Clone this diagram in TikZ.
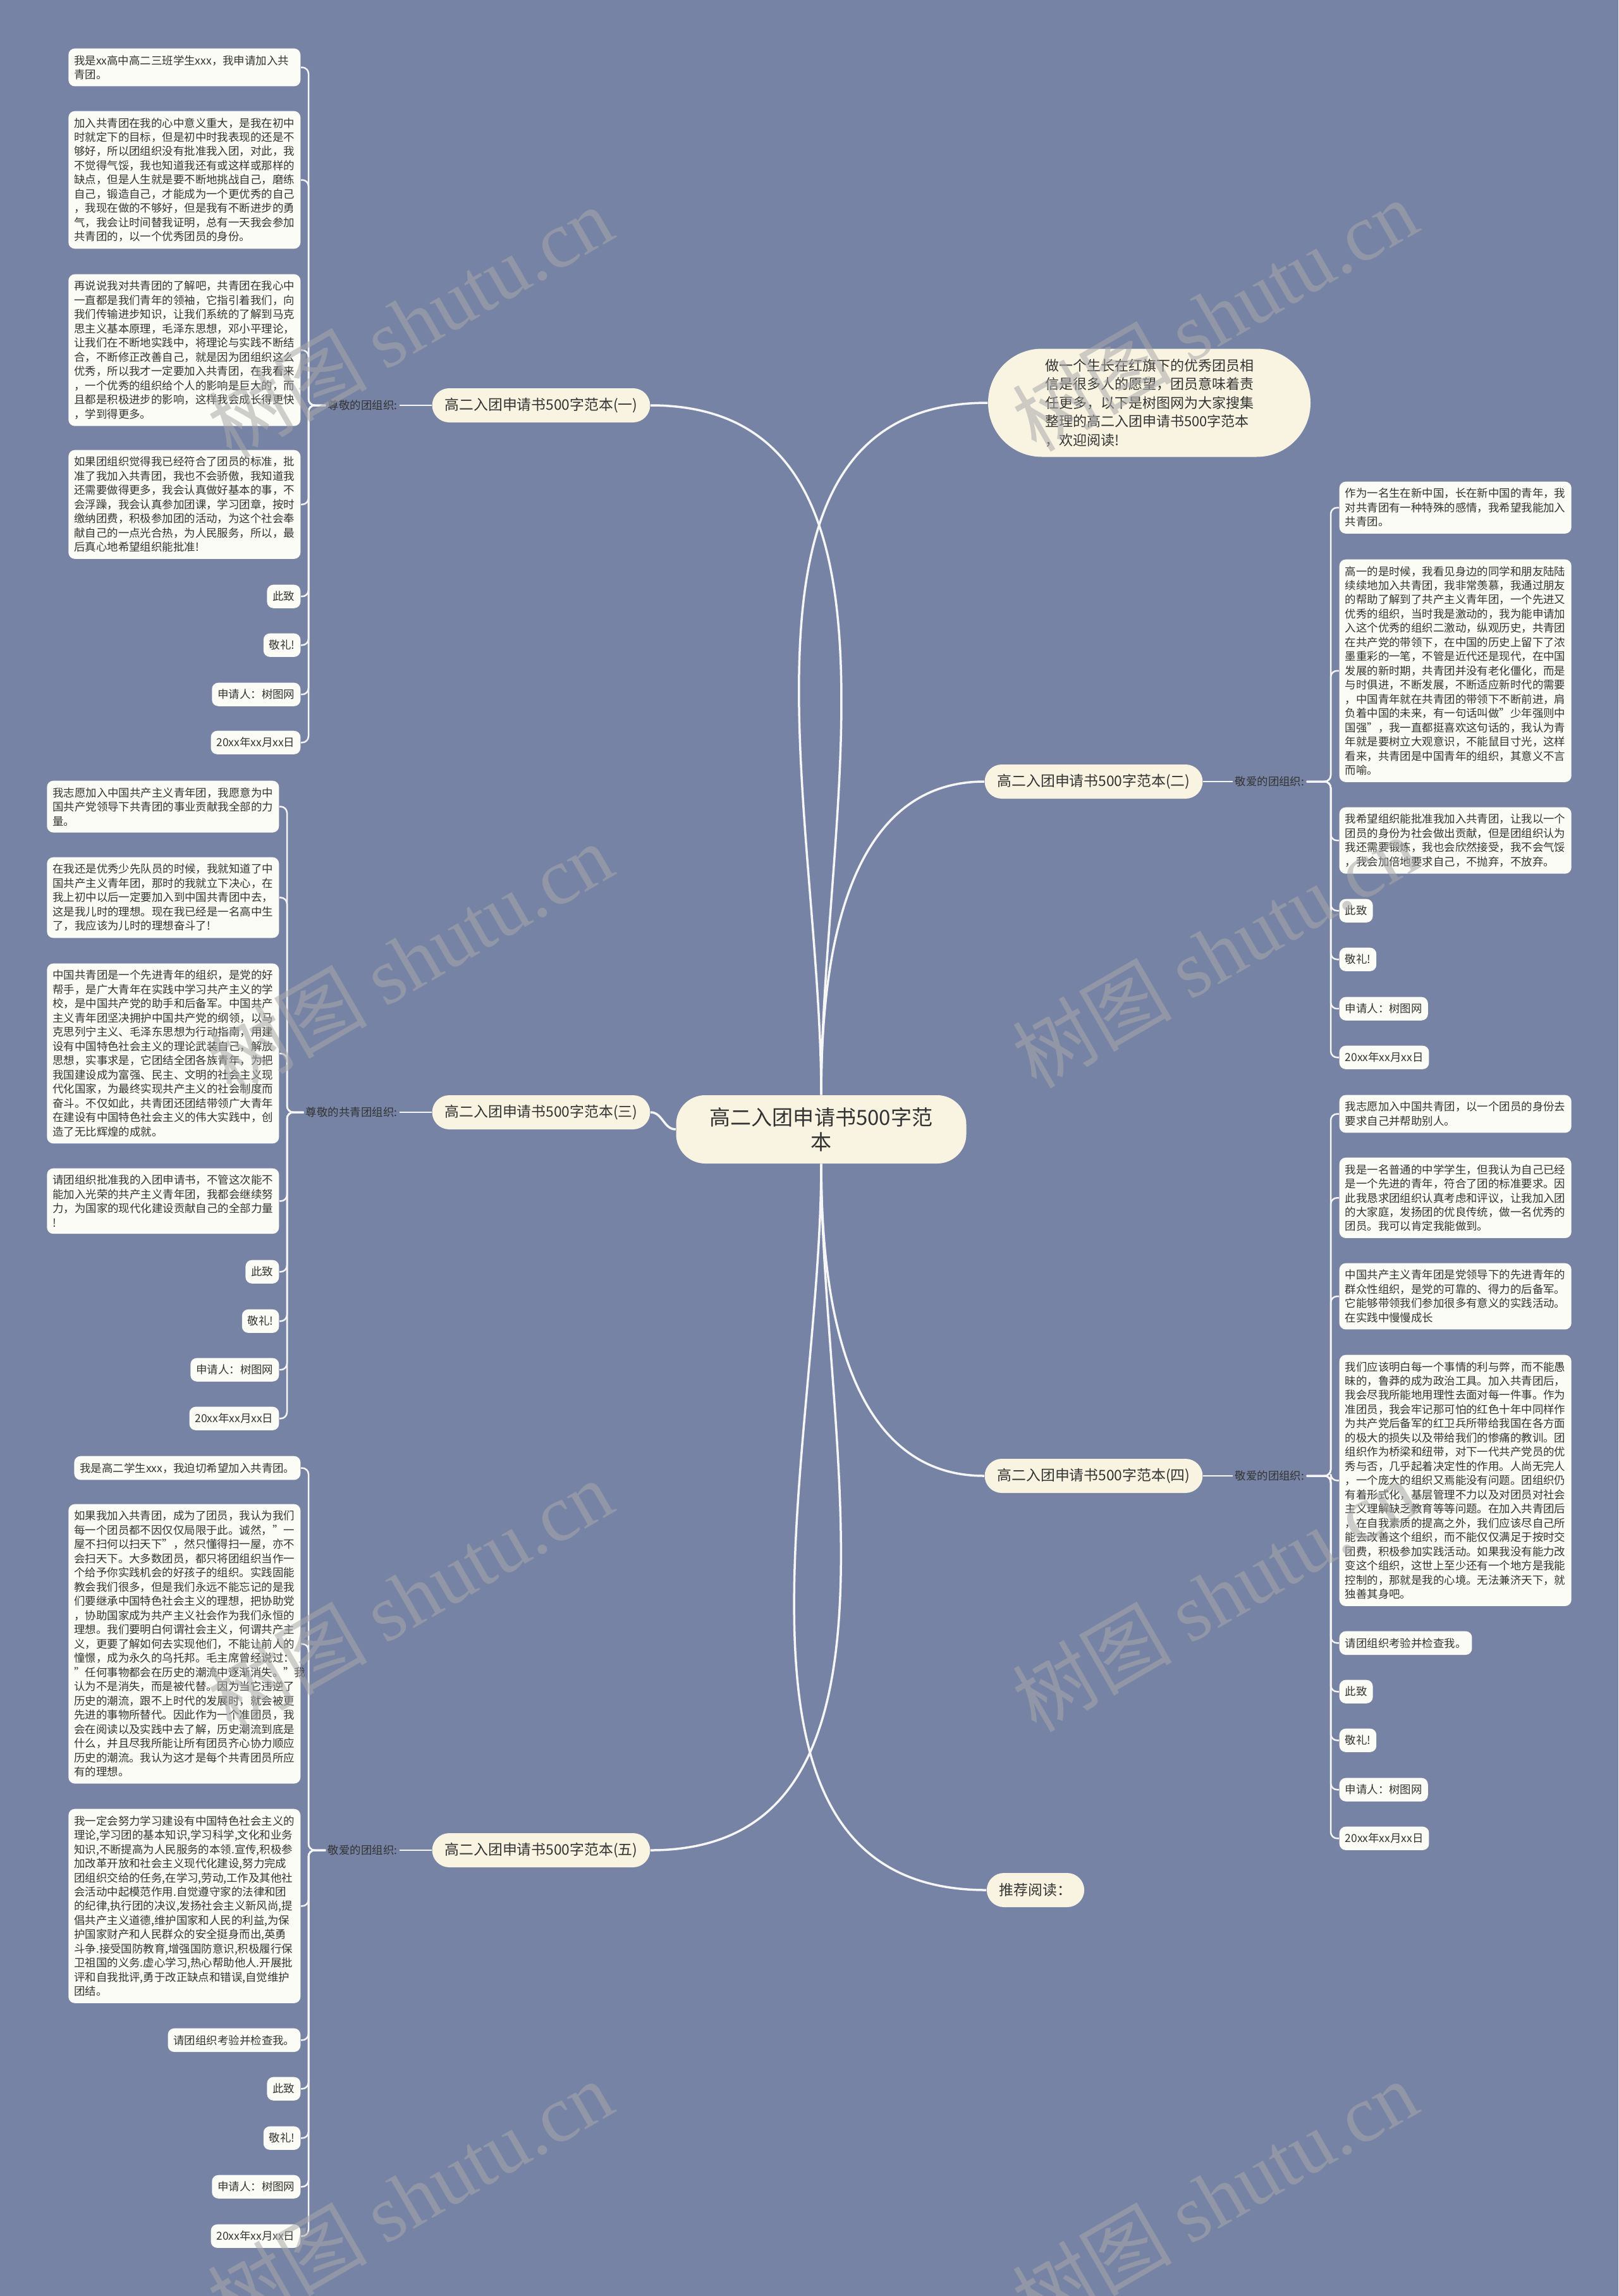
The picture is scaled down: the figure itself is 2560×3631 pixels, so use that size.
\documentclass[tikz,border=0pt]{standalone}
\usepackage{fontspec}
\setmainfont{Noto Sans CJK SC}
\newfontfamily\wmlatin{Liberation Serif}

\definecolor{mapbg}{RGB}{118,131,164}
\definecolor{leafbg}{RGB}{252,252,246}
\definecolor{topicbg}{RGB}{248,244,225}
\definecolor{inkgray}{RGB}{51,51,51}
\definecolor{wirecol}{RGB}{246,246,246}
\definecolor{wmgray}{RGB}{168,168,170}

\tikzset{
  leaftext/.style={text=inkgray, font=\fontsize{4.96pt}{6.4pt}\selectfont},
  chip/.style={leaftext, fill=leafbg, rounded corners=1mm, inner xsep=0.9mm, inner ysep=1.05mm},
  leaf/.style={chip, text width=34.9mm, align=left},
  cue/.style={leaftext, inner sep=0.3mm},
  topic/.style={fill=topicbg, text=inkgray, rounded corners=2.7mm, minimum height=5.4mm, inner xsep=2mm, font=\fontsize{6.5pt}{8pt}\selectfont},
  rootnode/.style={fill=topicbg, text=inkgray, rounded corners=4.6mm, minimum width=45.9mm, minimum height=10.8mm, align=center, font=\fontsize{9.4pt}{11.1pt}\selectfont},
  blurb/.style={fill=topicbg, text=inkgray, rounded corners=8.5mm, minimum width=51mm, minimum height=17.1mm, align=left, font=\fontsize{6.26pt}{8.4pt}\selectfont},
  twig/.style={draw=wirecol, line width=0.25mm, rounded corners=1mm},
  limb/.style={draw=wirecol, line width=0.35mm},
  watermark/.style={text=wmgray, text opacity=0.55, rotate=30, font=\fontsize{36pt}{36pt}\selectfont}
}

\begin{document}
\begin{tikzpicture}[x=0.1mm, y=-0.1mm]
\fill[mapbg] (0,0) rectangle (2560,3631);
\useasboundingbox (0,0) rectangle (2560,3631);

\node[rootnode] (root) at (1299,1786) {高二入团申请书500字范\\本};

\node[blurb] (intro) at (1818,637) {做一个生长在红旗下的优秀团员相\\信是很多人的愿望，团员意味着责\\任更多，以下是树图网为大家搜集\\整理的高二入团申请书500字范本\\，欢迎阅读!};

\node[topic] (b1) at (856,641) {高二入团申请书500字范本(一)};
\node[topic] (b2) at (1730,1236) {高二入团申请书500字范本(二)};
\node[topic] (b3) at (856,1759) {高二入团申请书500字范本(三)};
\node[topic] (b4) at (1730,2334) {高二入团申请书500字范本(四)};
\node[topic] (b5) at (856,2926) {高二入团申请书500字范本(五)};
\node[topic] (rec) at (1638,2989) {推荐阅读：};

\node[cue, anchor=east] (c1) at (632,641) {尊敬的团组织:};
\node[cue, anchor=west] (c2) at (1950,1236) {敬爱的团组织:};
\node[cue, anchor=east] (c3) at (632,1759) {尊敬的共青团组织:};
\node[cue, anchor=west] (c4) at (1950,2334) {敬爱的团组织:};
\node[cue, anchor=east] (c5) at (632,2926) {敬爱的团组织:};

\coordinate (t1) at (488,0);
\coordinate (t2) at (2105,0);
\coordinate (t3) at (454,0);
\coordinate (t4) at (2105,0);
\coordinate (t5) at (488,0);

\node[leaf, anchor=north east] (l1a) at (476,76) {我是xx高中高二三班学生xxx，我申请加入共\\青团。};
\node[leaf, anchor=north east] (l1b) at (476,175) {加入共青团在我的心中意义重大，是我在初中\\时就定下的目标，但是初中时我表现的还是不\\够好，所以团组织没有批准我入团，对此，我\\不觉得气馁，我也知道我还有或这样或那样的\\缺点，但是人生就是要不断地挑战自己，磨练\\自己，锻造自己，才能成为一个更优秀的自己\\，我现在做的不够好，但是我有不断进步的勇\\气，我会让时间替我证明，总有一天我会参加\\共青团的，以一个优秀团员的身份。};
\node[leaf, anchor=north east] (l1c) at (476,433) {再说说我对共青团的了解吧，共青团在我心中\\一直都是我们青年的领袖，它指引着我们，向\\我们传输进步知识，让我们系统的了解到马克\\思主义基本原理，毛泽东思想，邓小平理论，\\让我们在不断地实践中，将理论与实践不断结\\合，不断修正改善自己，就是因为团组织这么\\优秀，所以我才一定要加入共青团，在我看来\\，一个优秀的组织给个人的影响是巨大的，而\\且都是积极进步的影响，这样我会成长得更快\\，学到得更多。};
\node[leaf, anchor=north east] (l1d) at (476,711) {如果团组织觉得我已经符合了团员的标准，批\\准了我加入共青团，我也不会骄傲，我知道我\\还需要做得更多，我会认真做好基本的事，不\\会浮躁，我会认真参加团课，学习团章，按时\\缴纳团费，积极参加团的活动，为这个社会奉\\献自己的一点光合热，为人民服务，所以，最\\后真心地希望组织能批准!};
\node[chip, anchor=north east] (l1e) at (476,924) {此致};
\node[chip, anchor=north east] (l1f) at (476,1001) {敬礼!};
\node[chip, anchor=north east] (l1g) at (476,1079) {申请人：树图网};
\node[chip, anchor=north east] (l1h) at (476,1155) {20xx年xx月xx日};

\node[leaf, anchor=north west] (r2a) at (2118,761) {作为一名生在新中国，长在新中国的青年，我\\对共青团有一种特殊的感情，我希望我能加入\\共青团。};
\node[leaf, anchor=north west] (r2b) at (2118,884) {高一的是时候，我看见身边的同学和朋友陆陆\\续续地加入共青团，我非常羡慕，我通过朋友\\的帮助了解到了共产主义青年团，一个先进又\\优秀的组织，当时我是激动的，我为能申请加\\入这个优秀的组织二激动，纵观历史，共青团\\在共产党的带领下，在中国的历史上留下了浓\\墨重彩的一笔，不管是近代还是现代，在中国\\发展的新时期，共青团并没有老化僵化，而是\\与时俱进，不断发展，不断适应新时代的需要\\，中国青年就在共青团的带领下不断前进，肩\\负着中国的未来，有一句话叫做"少年强则中\\国强"，我一直都挺喜欢这句话的，我认为青\\年就是要树立大观意识，不能鼠目寸光，这样\\看来，共青团是中国青年的组织，其意义不言\\而喻。};
\node[leaf, anchor=north west] (r2c) at (2118,1276) {我希望组织能批准我加入共青团，让我以一个\\团员的身份为社会做出贡献，但是团组织认为\\我还需要锻炼，我也会欣然接受，我不会气馁\\，我会加倍地要求自己，不抛弃，不放弃。};
\node[chip, anchor=north west] (r2d) at (2118,1421) {此致};
\node[chip, anchor=north west] (r2e) at (2118,1498) {敬礼!};
\node[chip, anchor=north west] (r2f) at (2118,1576) {申请人：树图网};
\node[chip, anchor=north west] (r2g) at (2118,1653) {20xx年xx月xx日};

\node[leaf, anchor=north east] (l3a) at (442,1234) {我志愿加入中国共产主义青年团，我愿意为中\\国共产党领导下共青团的事业贡献我全部的力\\量。};
\node[leaf, anchor=north east] (l3b) at (442,1355) {在我还是优秀少先队员的时候，我就知道了中\\国共产主义青年团，那时的我就立下决心，在\\我上初中以后一定要加入到中国共青团中去，\\这是我儿时的理想。现在我已经是一名高中生\\了，我应该为儿时的理想奋斗了!};
\node[leaf, anchor=north east] (l3c) at (442,1523) {中国共青团是一个先进青年的组织，是党的好\\帮手，是广大青年在实践中学习共产主义的学\\校，是中国共产党的助手和后备军。中国共产\\主义青年团坚决拥护中国共产党的纲领，以马\\克思列宁主义、毛泽东思想为行动指南，用建\\设有中国特色社会主义的理论武装自己，解放\\思想，实事求是，它团结全团各族青年，为把\\我国建设成为富强、民主、文明的社会主义现\\代化国家，为最终实现共产主义的社会制度而\\奋斗。不仅如此，共青团还团结带领广大青年\\在建设有中国特色社会主义的伟大实践中，创\\造了无比辉煌的成就。};
\node[leaf, anchor=north east] (l3d) at (442,1847) {请团组织批准我的入团申请书，不管这次能不\\能加入光荣的共产主义青年团，我都会继续努\\力，为国家的现代化建设贡献自己的全部力量\\!};
\node[chip, anchor=north east] (l3e) at (442,1992) {此致};
\node[chip, anchor=north east] (l3f) at (442,2070) {敬礼!};
\node[chip, anchor=north east] (l3g) at (442,2147) {申请人：树图网};
\node[chip, anchor=north east] (l3h) at (442,2224) {20xx年xx月xx日};

\node[leaf, anchor=north west] (r4a) at (2118,1731) {我志愿加入中国共青团，以一个团员的身份去\\要求自己并帮助别人。};
\node[leaf, anchor=north west] (r4b) at (2118,1830) {我是一名普通的中学学生，但我认为自己已经\\是一个先进的青年，符合了团的标准要求。因\\此我恳求团组织认真考虑和评议，让我加入团\\的大家庭，发扬团的优良传统，做一名优秀的\\团员。我可以肯定我能做到。};
\node[leaf, anchor=north west] (r4c) at (2118,1997) {中国共产主义青年团是党领导下的先进青年的\\群众性组织，是党的可靠的、得力的后备军。\\它能够带领我们参加很多有意义的实践活动。\\在实践中慢慢成长};
\node[leaf, anchor=north west] (r4d) at (2118,2142) {我们应该明白每一个事情的利与弊，而不能愚\\昧的，鲁莽的成为政治工具。加入共青团后，\\我会尽我所能地用理性去面对每一件事。作为\\准团员，我会牢记那可怕的红色十年中同样作\\为共产党后备军的红卫兵所带给我国在各方面\\的极大的损失以及带给我们的惨痛的教训。团\\组织作为桥梁和纽带，对下一代共产党员的优\\秀与否，几乎起着决定性的作用。人尚无完人\\，一个庞大的组织又焉能没有问题。团组织仍\\有着形式化，基层管理不力以及对团员对社会\\主义理解缺乏教育等等问题。在加入共青团后\\，在自我素质的提高之外，我们应该尽自己所\\能去改善这个组织，而不能仅仅满足于按时交\\团费，积极参加实践活动。如果我没有能力改\\变这个组织，这世上至少还有一个地方是我能\\控制的，那就是我的心境。无法兼济天下，就\\独善其身吧。};
\node[chip, anchor=north west] (r4e) at (2118,2579) {请团组织考验并检查我。};
\node[chip, anchor=north west] (r4f) at (2118,2656) {此致};
\node[chip, anchor=north west] (r4g) at (2118,2733) {敬礼!};
\node[chip, anchor=north west] (r4h) at (2118,2811) {申请人：树图网};
\node[chip, anchor=north west] (r4i) at (2118,2888) {20xx年xx月xx日};

\node[chip, anchor=north east] (l5a) at (476,2302) {我是高二学生xxx，我迫切希望加入共青团。};
\node[leaf, anchor=north east] (l5b) at (476,2378) {如果我加入共青团，成为了团员，我认为我们\\每一个团员都不因仅仅局限于此。诚然，"一\\屋不扫何以扫天下"，然只懂得扫一屋，亦不\\会扫天下。大多数团员，都只将团组织当作一\\个给予你实践机会的好孩子的组织。实践固能\\教会我们很多，但是我们永远不能忘记的是我\\们要继承中国特色社会主义的理想，把协助党\\，协助国家成为共产主义社会作为我们永恒的\\理想。我们要明白何谓社会主义，何谓共产主\\义，更要了解如何去实现他们，不能让前人的\\憧憬，成为永久的乌托邦。毛主席曾经说过：\\"任何事物都会在历史的潮流中逐渐消失。"我\\认为不是消失，而是被代替。因为当它违逆了\\历史的潮流，跟不上时代的发展时，就会被更\\先进的事物所替代。因此作为一个准团员，我\\会在阅读以及实践中去了解，历史潮流到底是\\什么，并且尽我所能让所有团员齐心协力顺应\\历史的潮流。我认为这才是每个共青团员所应\\有的理想。};
\node[leaf, anchor=north east] (l5c) at (476,2860) {我一定会努力学习建设有中国特色社会主义的\\理论,学习团的基本知识,学习科学,文化和业务\\知识,不断提高为人民服务的本领.宣传,积极参\\加改革开放和社会主义现代化建设,努力完成\\团组织交给的任务,在学习,劳动,工作及其他社\\会活动中起模范作用.自觉遵守家的法律和团\\的纪律,执行团的决议,发扬社会主义新风尚,提\\倡共产主义道德,维护国家和人民的利益,为保\\护国家财产和人民群众的安全挺身而出,英勇\\斗争.接受国防教育,增强国防意识,积极履行保\\卫祖国的义务.虚心学习,热心帮助他人.开展批\\评和自我批评,勇于改正缺点和错误,自觉维护\\团结。};
\node[chip, anchor=north east] (l5d) at (476,3207) {请团组织考验并检查我。};
\node[chip, anchor=north east] (l5e) at (476,3284) {此致};
\node[chip, anchor=north east] (l5f) at (476,3362) {敬礼!};
\node[chip, anchor=north east] (l5g) at (476,3439) {申请人：树图网};
\node[chip, anchor=north east] (l5h) at (476,3517) {20xx年xx月xx日};

\draw[limb] (root.north) to[out=90, in=180] (intro.west);
\draw[limb] (root.north) to[out=90, in=0] (b1.east);
\draw[limb] (root.north) to[out=90, in=180] (b2.west);
\draw[limb] (root.west) to[out=180, in=0] (b3.east);
\draw[limb] (root.south) to[out=-90, in=180] (b4.west);
\draw[limb] (root.south) to[out=-90, in=0] (b5.east);
\draw[limb] (root.south) to[out=-90, in=180] (rec.west);

\draw[twig] (b1.west) -- (c1.east);
\draw[twig] (b2.east) -- (c2.west);
\draw[twig] (b3.west) -- (c3.east);
\draw[twig] (b4.east) -- (c4.west);
\draw[twig] (b5.west) -- (c5.east);

\foreach \n in {a,...,h}
  \draw[twig] (c1.west) -- (c1.west -| t1) |- (l1\n.east);
\foreach \n in {a,...,g}
  \draw[twig] (c2.east) -- (c2.east -| t2) |- (r2\n.west);
\foreach \n in {a,...,h}
  \draw[twig] (c3.west) -- (c3.west -| t3) |- (l3\n.east);
\foreach \n in {a,...,i}
  \draw[twig] (c4.east) -- (c4.east -| t4) |- (r4\n.west);
\foreach \n in {a,...,h}
  \draw[twig] (c5.west) -- (c5.west -| t5) |- (l5\n.east);

\foreach \i/\x/\y in {1/648/509, 2/1921/498, 3/648/1516, 4/1921/1505, 5/648/2523, 6/1921/2523, 7/648/3473, 8/1921/3473}
  \node[watermark] (wm\i) at (\x,\y) {树图 {\wmlatin shutu.cn}};
\end{tikzpicture}
\end{document}
